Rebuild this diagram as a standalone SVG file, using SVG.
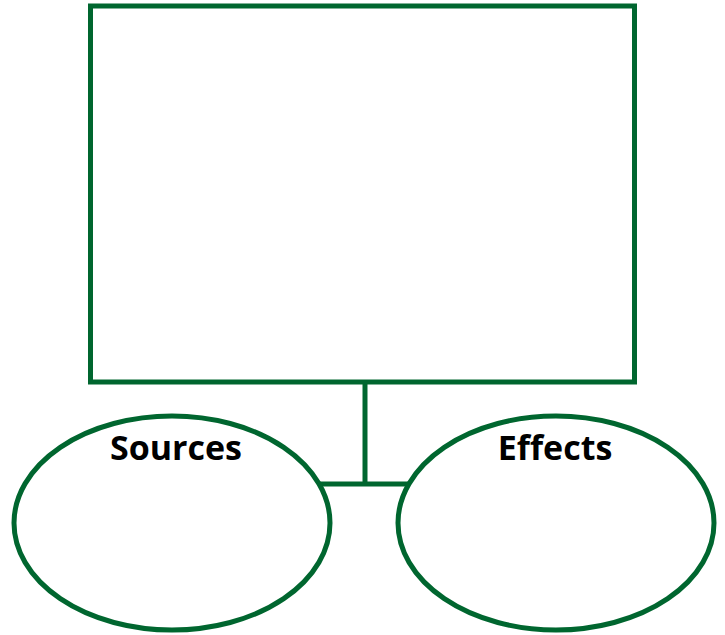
<svg xmlns="http://www.w3.org/2000/svg" width="725" height="635" viewBox="0 0 725 635">
<style>
.s{fill:none;stroke:#00662f;stroke-width:5}
.n{fill:#fff;stroke:#00662f;stroke-width:5}
.t{font-family:"Open Sans",sans-serif;font-weight:bold;font-size:34px;fill:#000;text-anchor:middle}
</style>
<rect width="725" height="635" fill="#fff"/>
<g id="connectors">
<line class="s" x1="365" y1="382" x2="365" y2="484"/>
<line class="s" x1="320" y1="484" x2="410" y2="484"/>
</g>
<g id="main"><rect class="n" x="90.5" y="6" width="544" height="376"/></g>
<g id="sources"><ellipse class="n" cx="172" cy="523" rx="158" ry="107"/><text class="t" x="176" y="460">Sources</text></g>
<g id="effects"><ellipse class="n" cx="556" cy="523" rx="158" ry="107"/><text class="t" x="555" y="460">Effects</text></g>
</svg>
